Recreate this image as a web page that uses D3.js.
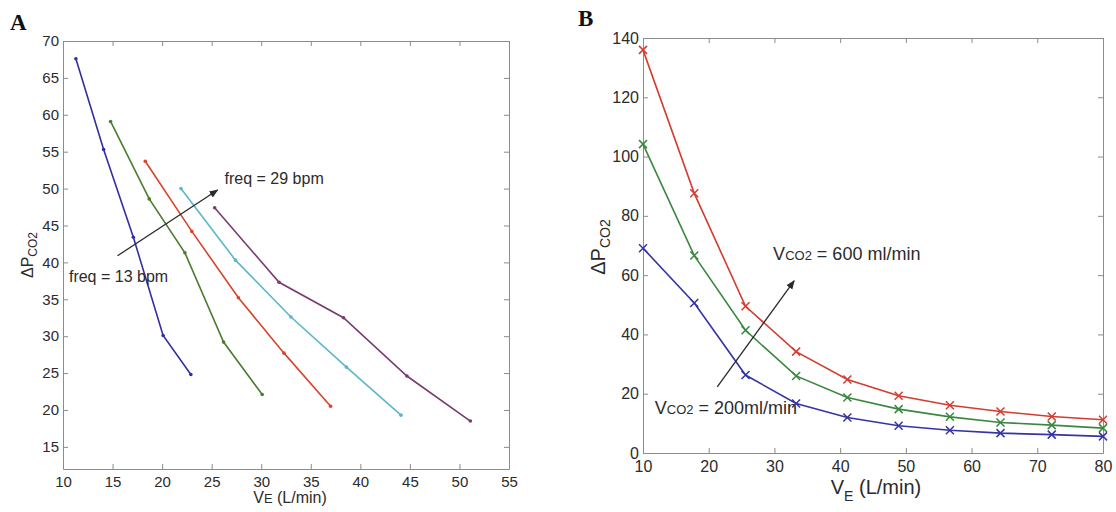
<!DOCTYPE html>
<html>
<head>
<meta charset="utf-8">
<script src="https://cdn.jsdelivr.net/npm/d3@7"></script>
<style>
  html, body { margin: 0; padding: 0; background: #fff; }
  svg { display: block; font-family: "Liberation Sans", Arial, sans-serif; }
</style>
</head>
<body>
<svg id="chart" width="1116" height="512"></svg>
<script>
// ---------- Panel A data (ΔPCO2 vs VE, for breathing frequencies 13..29 bpm) ----------
const aBlueVE   = [11.3, 14.1, 17.1, 20.1, 22.9];
const aBlueP    = [67.6, 55.3, 43.4, 30.1, 24.8];
const aGreenVE  = [14.8, 18.7, 22.3, 26.2, 30.1];
const aGreenP   = [59.1, 48.6, 41.3, 29.2, 22.1];
const aRedVE    = [18.3, 23.0, 27.7, 32.3, 37.0];
const aRedP     = [53.7, 44.2, 35.2, 27.7, 20.5];
const aCyanVE   = [21.9, 27.4, 33.0, 38.6, 44.1];
const aCyanP    = [50.0, 40.3, 32.6, 25.8, 19.3];
const aPurpleVE = [25.3, 31.8, 38.3, 44.7, 51.1];
const aPurpleP  = [47.4, 37.3, 32.5, 24.6, 18.5];
const aXTicks = [10, 15, 20, 25, 30, 35, 40, 45, 50, 55];
const aYTicks = [15, 20, 25, 30, 35, 40, 45, 50, 55, 60, 65, 70];

// ---------- Panel B data (ΔPCO2 vs VE, for VCO2 200..600 ml/min) ----------
const bVE    = [10, 17.8, 25.6, 33.3, 41.1, 48.9, 56.7, 64.4, 72.2, 80];
const bRed   = [136.0, 87.6, 49.5, 34.2, 24.8, 19.3, 16.1, 14.0, 12.3, 11.2];
const bGreen = [104.2, 66.6, 41.4, 26.0, 18.7, 14.8, 12.2, 10.3, 9.4, 8.4];
const bBlue  = [69.1, 50.6, 26.3, 16.7, 12.0, 9.2, 7.7, 6.7, 6.2, 5.6];
const bXTicks = [10, 20, 30, 40, 50, 60, 70, 80];
const bYTicks = [0, 20, 40, 60, 80, 100, 120, 140];

const svg = d3.select("#chart");
svg.append("rect").attr("width", 1116).attr("height", 512).attr("fill", "#fff");

const defs = svg.append("defs");
defs.append("marker").attr("id", "arrowhead")
  .attr("viewBox", "0 0 10 10").attr("refX", 9).attr("refY", 5)
  .attr("markerWidth", 9).attr("markerHeight", 9).attr("markerUnits", "userSpaceOnUse")
  .attr("orient", "auto")
  .append("path").attr("d", "M0,1 L10,5 L0,9 Z").attr("fill", "#2a2a2a");

const frameColor = "#8c8c8c";
const textColor = "#2b2b2b";

function drawFrame(x, y, xticks, yticks, fs, padX, padY) {
  const [x0, x1] = x.range();
  const [y0, y1] = y.range();
  const g = svg.append("g");
  const style = sel => {
    sel.select(".domain").attr("stroke", frameColor).attr("stroke-width", 1);
    sel.selectAll(".tick line").attr("stroke", frameColor).attr("stroke-width", 1);
    sel.selectAll(".tick text").attr("fill", textColor).style("font-size", fs + "px")
      .style("font-family", '"Liberation Sans", Arial, sans-serif');
  };
  g.append("g").attr("transform", `translate(0,${y0})`)
    .call(d3.axisBottom(x).tickValues(xticks).tickSizeInner(-5).tickSizeOuter(0).tickPadding(padX))
    .call(style);
  g.append("g").attr("transform", `translate(0,${y1})`)
    .call(d3.axisTop(x).tickValues(xticks).tickSizeInner(-5).tickSizeOuter(0).tickFormat(""))
    .call(style);
  g.append("g").attr("transform", `translate(${x0},0)`)
    .call(d3.axisLeft(y).tickValues(yticks).tickSizeInner(-5).tickSizeOuter(0).tickPadding(padY))
    .call(style);
  g.append("g").attr("transform", `translate(${x1},0)`)
    .call(d3.axisRight(y).tickValues(yticks).tickSizeInner(-5).tickSizeOuter(0).tickFormat(""))
    .call(style);
  g.selectAll("text").attr("font-family", '"Liberation Sans", Arial, sans-serif');
  return g;
}

// ================= Panel A =================
const xA = d3.scaleLinear().domain([10, 55]).range([63, 509]);
const yA = d3.scaleLinear().domain([12, 70]).range([469, 41]);
drawFrame(xA, yA, aXTicks, aYTicks, 15, 7, 4);

const seriesA = [
  { ve: aBlueVE,   p: aBlueP,   color: "#2f2f9f" },
  { ve: aGreenVE,  p: aGreenP,  color: "#4a7b2f" },
  { ve: aRedVE,    p: aRedP,    color: "#d8432d" },
  { ve: aCyanVE,   p: aCyanP,   color: "#5cb6cb" },
  { ve: aPurpleVE, p: aPurpleP, color: "#7a3a72" }
];
const lineA = d3.line().x(d => xA(d[0])).y(d => yA(d[1]));
seriesA.forEach(s => {
  const pts = s.ve.map((v, i) => [v, s.p[i]]);
  svg.append("path").attr("d", lineA(pts)).attr("fill", "none")
    .attr("stroke", s.color).attr("stroke-width", 1.6);
  svg.append("g").selectAll("circle").data(pts).join("circle")
    .attr("cx", d => xA(d[0])).attr("cy", d => yA(d[1])).attr("r", 1.8)
    .attr("fill", s.color);
});

// arrow A
svg.append("line")
  .attr("x1", xA(15.5)).attr("y1", yA(40.9))
  .attr("x2", xA(25.6)).attr("y2", yA(49.8))
  .attr("stroke", "#2a2a2a").attr("stroke-width", 1.3)
  .attr("marker-end", "url(#arrowhead)");
svg.append("text").attr("x", xA(26.3)).attr("y", yA(50.6))
  .attr("fill", textColor).style("font-size", "16px").text("freq = 29 bpm");
svg.append("text").attr("x", xA(10.6)).attr("y", yA(37.4))
  .attr("fill", textColor).style("font-size", "16px").text("freq = 13 bpm");

// axis labels A
const xlabA = svg.append("text").attr("x", 290).attr("y", 503)
  .attr("text-anchor", "middle").attr("fill", textColor).style("font-size", "16px");
xlabA.append("tspan").text("V");
xlabA.append("tspan").style("font-size", "13px").text("E");
xlabA.append("tspan").text(" (L/min)");

const ylabA = svg.append("text").attr("transform", "translate(33,255) rotate(-90)")
  .attr("text-anchor", "middle").attr("fill", textColor).style("font-size", "16px");
ylabA.append("tspan").text("ΔP");
ylabA.append("tspan").attr("dy", 4).style("font-size", "12px").text("CO2");

// panel letter A
svg.append("text").attr("x", 10).attr("y", 30)
  .style("font-family", '"Liberation Serif", "Times New Roman", serif')
  .style("font-size", "23px").style("font-weight", "bold").attr("fill", "#111").text("A");

// ================= Panel B =================
const xB = d3.scaleLinear().domain([10, 80]).range([643, 1103]);
const yB = d3.scaleLinear().domain([0, 140]).range([453, 38]);
drawFrame(xB, yB, bXTicks, bYTicks, 16, 8, 4);

const seriesB = [
  { p: bRed,   color: "#d33c2f" },
  { p: bGreen, color: "#3b8740" },
  { p: bBlue,  color: "#3434a6" }
];
const lineB = d3.line().x(d => xB(d[0])).y(d => yB(d[1]));
seriesB.forEach(s => {
  const pts = bVE.map((v, i) => [v, s.p[i]]);
  svg.append("path").attr("d", lineB(pts)).attr("fill", "none")
    .attr("stroke", s.color).attr("stroke-width", 1.6);
  const m = 4;
  svg.append("g").selectAll("path").data(pts).join("path")
    .attr("d", d => {
      const cx = xB(d[0]), cy = yB(d[1]);
      return `M${cx - m},${cy - m}L${cx + m},${cy + m}M${cx - m},${cy + m}L${cx + m},${cy - m}`;
    })
    .attr("stroke", s.color).attr("stroke-width", 1.5).attr("fill", "none");
});

// arrow B
svg.append("line")
  .attr("x1", xB(21.3)).attr("y1", yB(22.3))
  .attr("x2", xB(33.0)).attr("y2", yB(58.1))
  .attr("stroke", "#2a2a2a").attr("stroke-width", 1.3)
  .attr("marker-end", "url(#arrowhead)");

function vco2Label(xv, yv, rest) {
  const t = svg.append("text").attr("x", xB(xv)).attr("y", yB(yv))
    .attr("fill", textColor).style("font-size", "18px");
  t.append("tspan").text("V");
  t.append("tspan").style("font-size", "13px").text("CO2");
  t.append("tspan").text(rest);
}
vco2Label(29.8, 65.1, " = 600 ml/min");
vco2Label(11.8, 13.2, " = 200ml/min");

// axis labels B
const xlabB = svg.append("text").attr("x", 876).attr("y", 494)
  .attr("text-anchor", "middle").attr("fill", textColor).style("font-size", "20px");
xlabB.append("tspan").text("V");
xlabB.append("tspan").attr("dy", 7).style("font-size", "14px").text("E");
xlabB.append("tspan").attr("dy", -7).text(" (L/min)");

const ylabB = svg.append("text").attr("transform", "translate(605,247) rotate(-90)")
  .attr("text-anchor", "middle").attr("fill", textColor).style("font-size", "20px");
ylabB.append("tspan").text("ΔP");
ylabB.append("tspan").attr("dy", 5).style("font-size", "14px").text("CO2");

// panel letter B
svg.append("text").attr("x", 578).attr("y", 26)
  .style("font-family", '"Liberation Serif", "Times New Roman", serif')
  .style("font-size", "23px").style("font-weight", "bold").attr("fill", "#111").text("B");
</script>
</body>
</html>
